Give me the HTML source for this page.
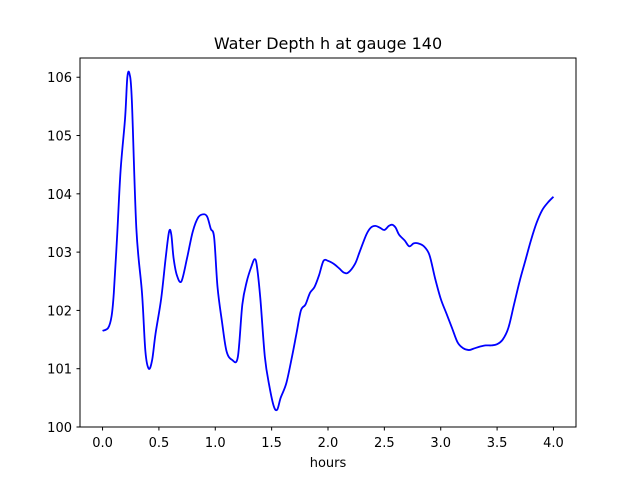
<!DOCTYPE html>
<html><head><meta charset="utf-8"><style>
html,body{margin:0;padding:0;background:#fff;}
svg{display:block;font-family:"DejaVu Sans","Liberation Sans",sans-serif;}
</style></head><body>
<svg id="chart" width="640" height="480">
<rect x="0" y="0" width="640" height="480" fill="#fff"/>
<text x="328" y="49" text-anchor="middle" font-size="16" fill="#000">Water Depth h at gauge 140</text>
<g id="xticks"></g>
<g id="yticks"></g>
<path id="series" fill="none" stroke="#0000ff" stroke-width="1.8" stroke-linejoin="round"/>
<rect x="80" y="58" width="496" height="369" fill="none" stroke="#000" stroke-width="1"/>
<text x="328" y="467" text-anchor="middle" font-size="13" fill="#000">hours</text>
</svg>
<script>
const xTicks=[0,0.5,1,1.5,2,2.5,3,3.5,4];
const xTickLabels=["0.0","0.5","1.0","1.5","2.0","2.5","3.0","3.5","4.0"];
const yTicks=[100,101,102,103,104,105,106];
const yTickLabels=["100","101","102","103","104","105","106"];
const hours=[0,0.05,0.08,0.1,0.13,0.16,0.2,0.22,0.24,0.26,0.3,0.35,0.38,0.41,0.44,0.47,0.52,0.56,0.59,0.61,0.63,0.66,0.7,0.75,0.8,0.85,0.9,0.93,0.96,0.99,1.02,1.06,1.1,1.15,1.2,1.24,1.28,1.32,1.35,1.37,1.4,1.44,1.48,1.52,1.55,1.58,1.63,1.68,1.72,1.76,1.8,1.84,1.88,1.92,1.96,2.0,2.05,2.1,2.14,2.18,2.24,2.28,2.34,2.38,2.42,2.46,2.5,2.54,2.57,2.6,2.63,2.68,2.72,2.76,2.8,2.85,2.9,2.95,3.0,3.05,3.1,3.15,3.2,3.25,3.3,3.35,3.4,3.45,3.5,3.55,3.6,3.65,3.7,3.75,3.8,3.85,3.9,3.95,4.0];
const depth=[101.65,101.7,101.9,102.3,103.3,104.4,105.3,106.0,106.05,105.6,103.4,102.3,101.3,101.0,101.15,101.6,102.2,102.9,103.35,103.3,102.9,102.6,102.5,102.9,103.35,103.6,103.65,103.6,103.4,103.25,102.4,101.8,101.3,101.15,101.2,102.1,102.5,102.75,102.88,102.75,102.2,101.2,100.7,100.35,100.3,100.5,100.75,101.2,101.6,102.0,102.1,102.3,102.4,102.6,102.85,102.85,102.8,102.72,102.65,102.65,102.8,103.0,103.3,103.42,103.45,103.42,103.38,103.45,103.47,103.42,103.3,103.2,103.1,103.15,103.15,103.1,102.95,102.55,102.2,101.95,101.7,101.45,101.35,101.32,101.35,101.38,101.4,101.4,101.42,101.5,101.7,102.1,102.5,102.85,103.2,103.5,103.72,103.85,103.95];
const X0=80,X1=576,Y0=427,Y1=58,xmin=-0.2,xmax=4.2,ymin=100.0,ymax=106.33;
function sx(v){return X0+(v-xmin)/(xmax-xmin)*(X1-X0);}
function sy(v){return Y0-(v-ymin)/(ymax-ymin)*(Y0-Y1);}
const NS="http://www.w3.org/2000/svg";
const xg=document.getElementById('xticks'),yg=document.getElementById('yticks');
xTicks.forEach((t,i)=>{
 const l=document.createElementNS(NS,'line');
 l.setAttribute('x1',sx(t));l.setAttribute('x2',sx(t));l.setAttribute('y1',427);l.setAttribute('y2',430.5);l.setAttribute('stroke','#000');
 
 
 xg.appendChild(l);
 const tx=document.createElementNS(NS,'text');
 tx.setAttribute('x',sx(t));tx.setAttribute('y',447);tx.setAttribute('text-anchor','middle');tx.setAttribute('font-size','13');
 tx.textContent=xTickLabels[i];
 
 
 xg.appendChild(tx);
});
yTicks.forEach((t,i)=>{
 const l=document.createElementNS(NS,'line');
 l.setAttribute('x1',76.5);l.setAttribute('x2',80);l.setAttribute('y1',sy(t));l.setAttribute('y2',sy(t));l.setAttribute('stroke','#000');
 
 
 yg.appendChild(l);
 const tx=document.createElementNS(NS,'text');
 tx.setAttribute('x',72);tx.setAttribute('y',sy(t)+5);tx.setAttribute('text-anchor','end');tx.setAttribute('font-size','13');
 tx.textContent=yTickLabels[i];
 
 
 yg.appendChild(tx);
});
// Catmull-Rom smoothing
const pts=hours.map((h,i)=>[sx(h),sy(depth[i])]);
let d='M'+pts[0][0]+','+pts[0][1];
for(let i=0;i<pts.length-1;i++){
 const p0=pts[Math.max(0,i-1)],p1=pts[i],p2=pts[i+1],p3=pts[Math.min(pts.length-1,i+2)];
 const c1=[p1[0]+(p2[0]-p0[0])/6,p1[1]+(p2[1]-p0[1])/6];
 const c2=[p2[0]-(p3[0]-p1[0])/6,p2[1]-(p3[1]-p1[1])/6];
 d+=' C'+c1[0]+','+c1[1]+' '+c2[0]+','+c2[1]+' '+p2[0]+','+p2[1];
}
document.getElementById('series').setAttribute('d',d);
</script>
</body></html>
